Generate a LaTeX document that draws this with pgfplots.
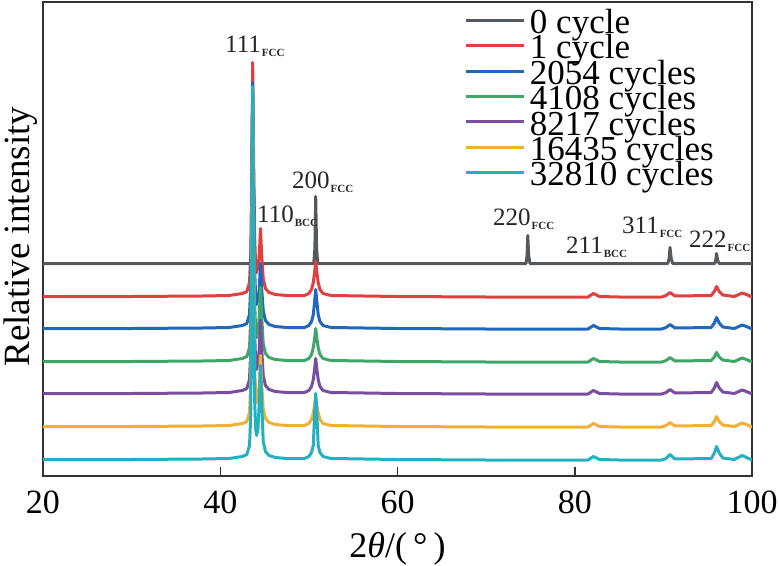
\documentclass[border=0pt]{standalone}
\usepackage{pgfplots}
\pgfplotsset{compat=1.18}
\usepackage{fontspec}
\setmainfont{Liberation Serif}
\definecolor{cgray}{HTML}{55595E}
\definecolor{cred}{HTML}{E0403F}
\definecolor{cblue}{HTML}{1F68BD}
\definecolor{cgreen}{HTML}{3FA66A}
\definecolor{cpurple}{HTML}{7A4E9E}
\definecolor{corange}{HTML}{F0B035}
\definecolor{cteal}{HTML}{25B0BF}
\newcommand{\lbl}[2]{{\fontsize{25}{25}\selectfont #1}\hspace{1pt}\raisebox{-4pt}{\fontsize{11}{11}\selectfont\bfseries #2}}
\begin{document}
\begin{tikzpicture}
\begin{axis}[name=ax,
  width=709pt, height=473pt, scale only axis,
  xmin=20, xmax=100, ymin=0, ymax=473,
  xtick={20,40,60,80,100}, ytick=\empty,
  xtick pos=bottom, tick align=inside,
  major tick length=9pt,
  tick style={line width=1.5pt, draw=black!80},
  axis line style={line width=2pt, draw=black!80},
  /pgf/number format/assume math mode=true,
  xticklabel style={font=\fontsize{34}{34}\selectfont, anchor=base, inner sep=0pt, yshift=-38pt},
  xlabel={2\textit{θ}/(\,°\,)},
  xlabel style={at={(rel axis cs:0.5,0)}, anchor=base, inner sep=0pt, yshift=-82pt, font=\fontsize{36}{36}\selectfont},
  ylabel={Relative intensity},
  ylabel style={at={(rel axis cs:-0.0075,0.505)}, anchor=south, inner sep=0pt, font=\fontsize{37}{37}\selectfont},
  legend style={at={(rel axis cs:0.5952,0.9704)}, anchor=north west, draw=none, fill=none, inner sep=0pt, outer sep=0pt,
    font=\fontsize{35}{35}\selectfont, row sep=0pt,
    nodes={inner sep=0pt, text height=17pt, text depth=8.4pt},
    /tikz/every odd column/.append style={column sep=5pt}},
  legend cell align=left,
  legend image code/.code={\draw[#1, line width=3pt] (0pt,9pt) -- (57pt,9pt);},
  every axis plot/.append style={line width=3pt, line join=round},
]
\addplot[cgray] table {
20 212
43.4 212
43.55 232
43.66 370
43.8 232
43.95 212
50.55 212
50.68 227
50.77 279
50.87 227
51.0 212
74.5 212
74.62 220
74.7 240
74.8 220
74.95 212
90.5 212
90.65 217
90.75 228
90.88 217
91.05 212
95.8 212
95.9 215
96.0 222
96.12 215
96.3 212
100 212
};
\addlegendentry{0 cycle}
\addplot[cred] table {
20 179
30 179
38 179.5
41 180
42.5 182
43.0 184
43.3 193
43.45 224
43.57 319.4
43.66 413
43.76 319.4
43.88 239
44.0 209
44.1 203
44.25 209
44.4 219.8
44.54 247
44.68 219.8
44.85 197
45.1 187
45.5 183
46.2 181
47.5 180
49.5 180
50.0 182
50.3 186
50.5 193
50.65 203.5
50.77 214
50.9 203.5
51.05 193
51.25 186
51.6 182
52.5 180
60 179
70 178.5
80 178.5
81.5 178.5
82.1 182
82.8 179
85 178.5
89.8 178.5
90.3 180
90.75 183
91.3 179.5
95.4 180
95.75 184
96.0 189
96.3 184
96.7 180.5
98 179
98.9 182.5
99.5 180.5
100 178.5
};
\addlegendentry{1 cycle}
\addplot[cblue] table {
20 147
30 147
38 147.5
41 148
42.5 150
43.0 152
43.3 161
43.45 192
43.57 294.6
43.66 393
43.76 294.6
43.88 207
44.0 177
44.1 171
44.25 177
44.4 186
44.54 212
44.68 186
44.85 165
45.1 155
45.5 151
46.2 149
47.5 148
49.5 148
50.0 150
50.3 154
50.5 161
50.65 174.3
50.77 186
50.9 174.3
51.05 161
51.25 154
51.6 150
52.5 148
60 147
70 146.5
80 146.5
81.5 146.5
82.1 150
82.8 147
85 146.5
89.8 146.5
90.3 148
90.75 151
91.3 147.5
95.4 148
95.75 152.5
96.0 158
96.3 152.5
96.7 148.5
98 147
98.9 150.5
99.5 148.5
100 146.5
};
\addlegendentry{2054 cycles}
\addplot[cgreen] table {
20 114
30 114
38 114.5
41 115
42.5 117
43.0 119
43.3 128
43.45 159
43.57 276.6
43.66 385
43.76 276.6
43.88 174
44.0 144
44.1 138
44.25 144
44.4 158.4
44.54 188
44.68 158.4
44.85 132
45.1 122
45.5 118
46.2 116
47.5 115
49.5 115
50.0 117
50.3 121
50.5 128
50.65 137.1
50.77 147
50.9 137.1
51.05 128
51.25 121
51.6 117
52.5 115
60 114
70 113.5
80 113.5
81.5 113.5
82.1 117
82.8 114
85 113.5
89.8 113.5
90.3 115
90.75 118
91.3 114.5
95.4 115
95.75 118.5
96.0 123
96.3 118.5
96.7 115.5
98 114
98.9 117.5
99.5 115.5
100 113.5
};
\addlegendentry{4108 cycles}
\addplot[cpurple] table {
20 82
30 82
38 82.5
41 83
42.5 85
43.0 87
43.3 96
43.45 127
43.57 263.8
43.66 385
43.76 263.8
43.88 142
44.0 112
44.1 106
44.25 112
44.4 125.8
44.54 155
44.68 125.8
44.85 100
45.1 90
45.5 86
46.2 84
47.5 83
49.5 83
50.0 85
50.3 89
50.5 96
50.65 106.5
50.77 117
50.9 106.5
51.05 96
51.25 89
51.6 85
52.5 83
60 82
70 81.5
80 81.5
81.5 81.5
82.1 85
82.8 82
85 81.5
89.8 81.5
90.3 83
90.75 86
91.3 82.5
95.4 83
95.75 87.5
96.0 93
96.3 87.5
96.7 83.5
98 82
98.9 85.5
99.5 83.5
100 81.5
};
\addlegendentry{8217 cycles}
\addplot[corange] table {
20 49
30 49
38 49.5
41 50
42.5 52
43.0 54
43.3 63
43.45 94
43.57 250.6
43.66 385
43.76 250.6
43.88 109
44.0 79
44.1 73
44.25 79
44.4 91.6
44.54 120
44.68 91.6
44.85 67
45.1 57
45.5 53
46.2 51
47.5 50
49.5 50
50.0 52
50.3 56
50.5 63
50.65 70
50.77 79
50.9 70
51.05 63
51.25 56
51.6 52
52.5 50
60 49
70 48.5
80 48.5
81.5 48.5
82.1 52
82.8 49
85 48.5
89.8 48.5
90.3 50
90.75 53
91.3 49.5
95.4 50
95.75 54
96.0 59
96.3 54
96.7 50.5
98 49
98.9 52.5
99.5 50.5
100 48.5
};
\addlegendentry{16435 cycles}
\addplot[cteal] table {
20 16
30 16
38 16.5
41 17
42.5 19
43.0 21
43.3 30
43.45 61
43.57 239.8
43.66 389
43.76 239.8
43.88 76
44.0 46
44.1 40
44.25 46
44.4 72.4
44.54 110
44.68 72.4
44.85 34
45.1 24
45.5 20
46.2 18
47.5 17
49.5 17
50.0 19
50.3 23
50.5 30
50.65 62.2
50.77 82
50.9 62.2
51.05 30
51.25 23
51.6 19
52.5 17
60 16
70 15.5
80 15.5
81.5 15.5
82.1 19
82.8 16
85 15.5
89.8 15.5
90.3 17
90.75 21
91.3 16.5
95.4 17
95.75 22.5
96.0 29
96.3 22.5
96.7 17.5
98 16
98.9 20
99.5 17.5
100 15.5
};
\addlegendentry{32810 cycles}
\node[anchor=base west, inner sep=0pt, text=black!85] at (axis cs:40.54,423) {\lbl{111}{FCC}};
\node[anchor=base west, inner sep=0pt, text=black!85] at (axis cs:44.15,253) {\lbl{110}{BCC}};
\node[anchor=base west, inner sep=0pt, text=black!85] at (axis cs:48.10,287) {\lbl{200}{FCC}};
\node[anchor=base west, inner sep=0pt, text=black!85] at (axis cs:70.78,250) {\lbl{220}{FCC}};
\node[anchor=base west, inner sep=0pt, text=black!85] at (axis cs:79.01,222) {\lbl{211}{BCC}};
\node[anchor=base west, inner sep=0pt, text=black!85] at (axis cs:85.33,242) {\lbl{311}{FCC}};
\node[anchor=base west, inner sep=0pt, text=black!85] at (axis cs:92.89,228) {\lbl{222}{FCC}};
\end{axis}
\pgfresetboundingbox
\path ([shift={(-43pt,-90pt)}]ax.south west) rectangle ([shift={(27pt,2.5pt)}]ax.north east);
\end{tikzpicture}
\end{document}
